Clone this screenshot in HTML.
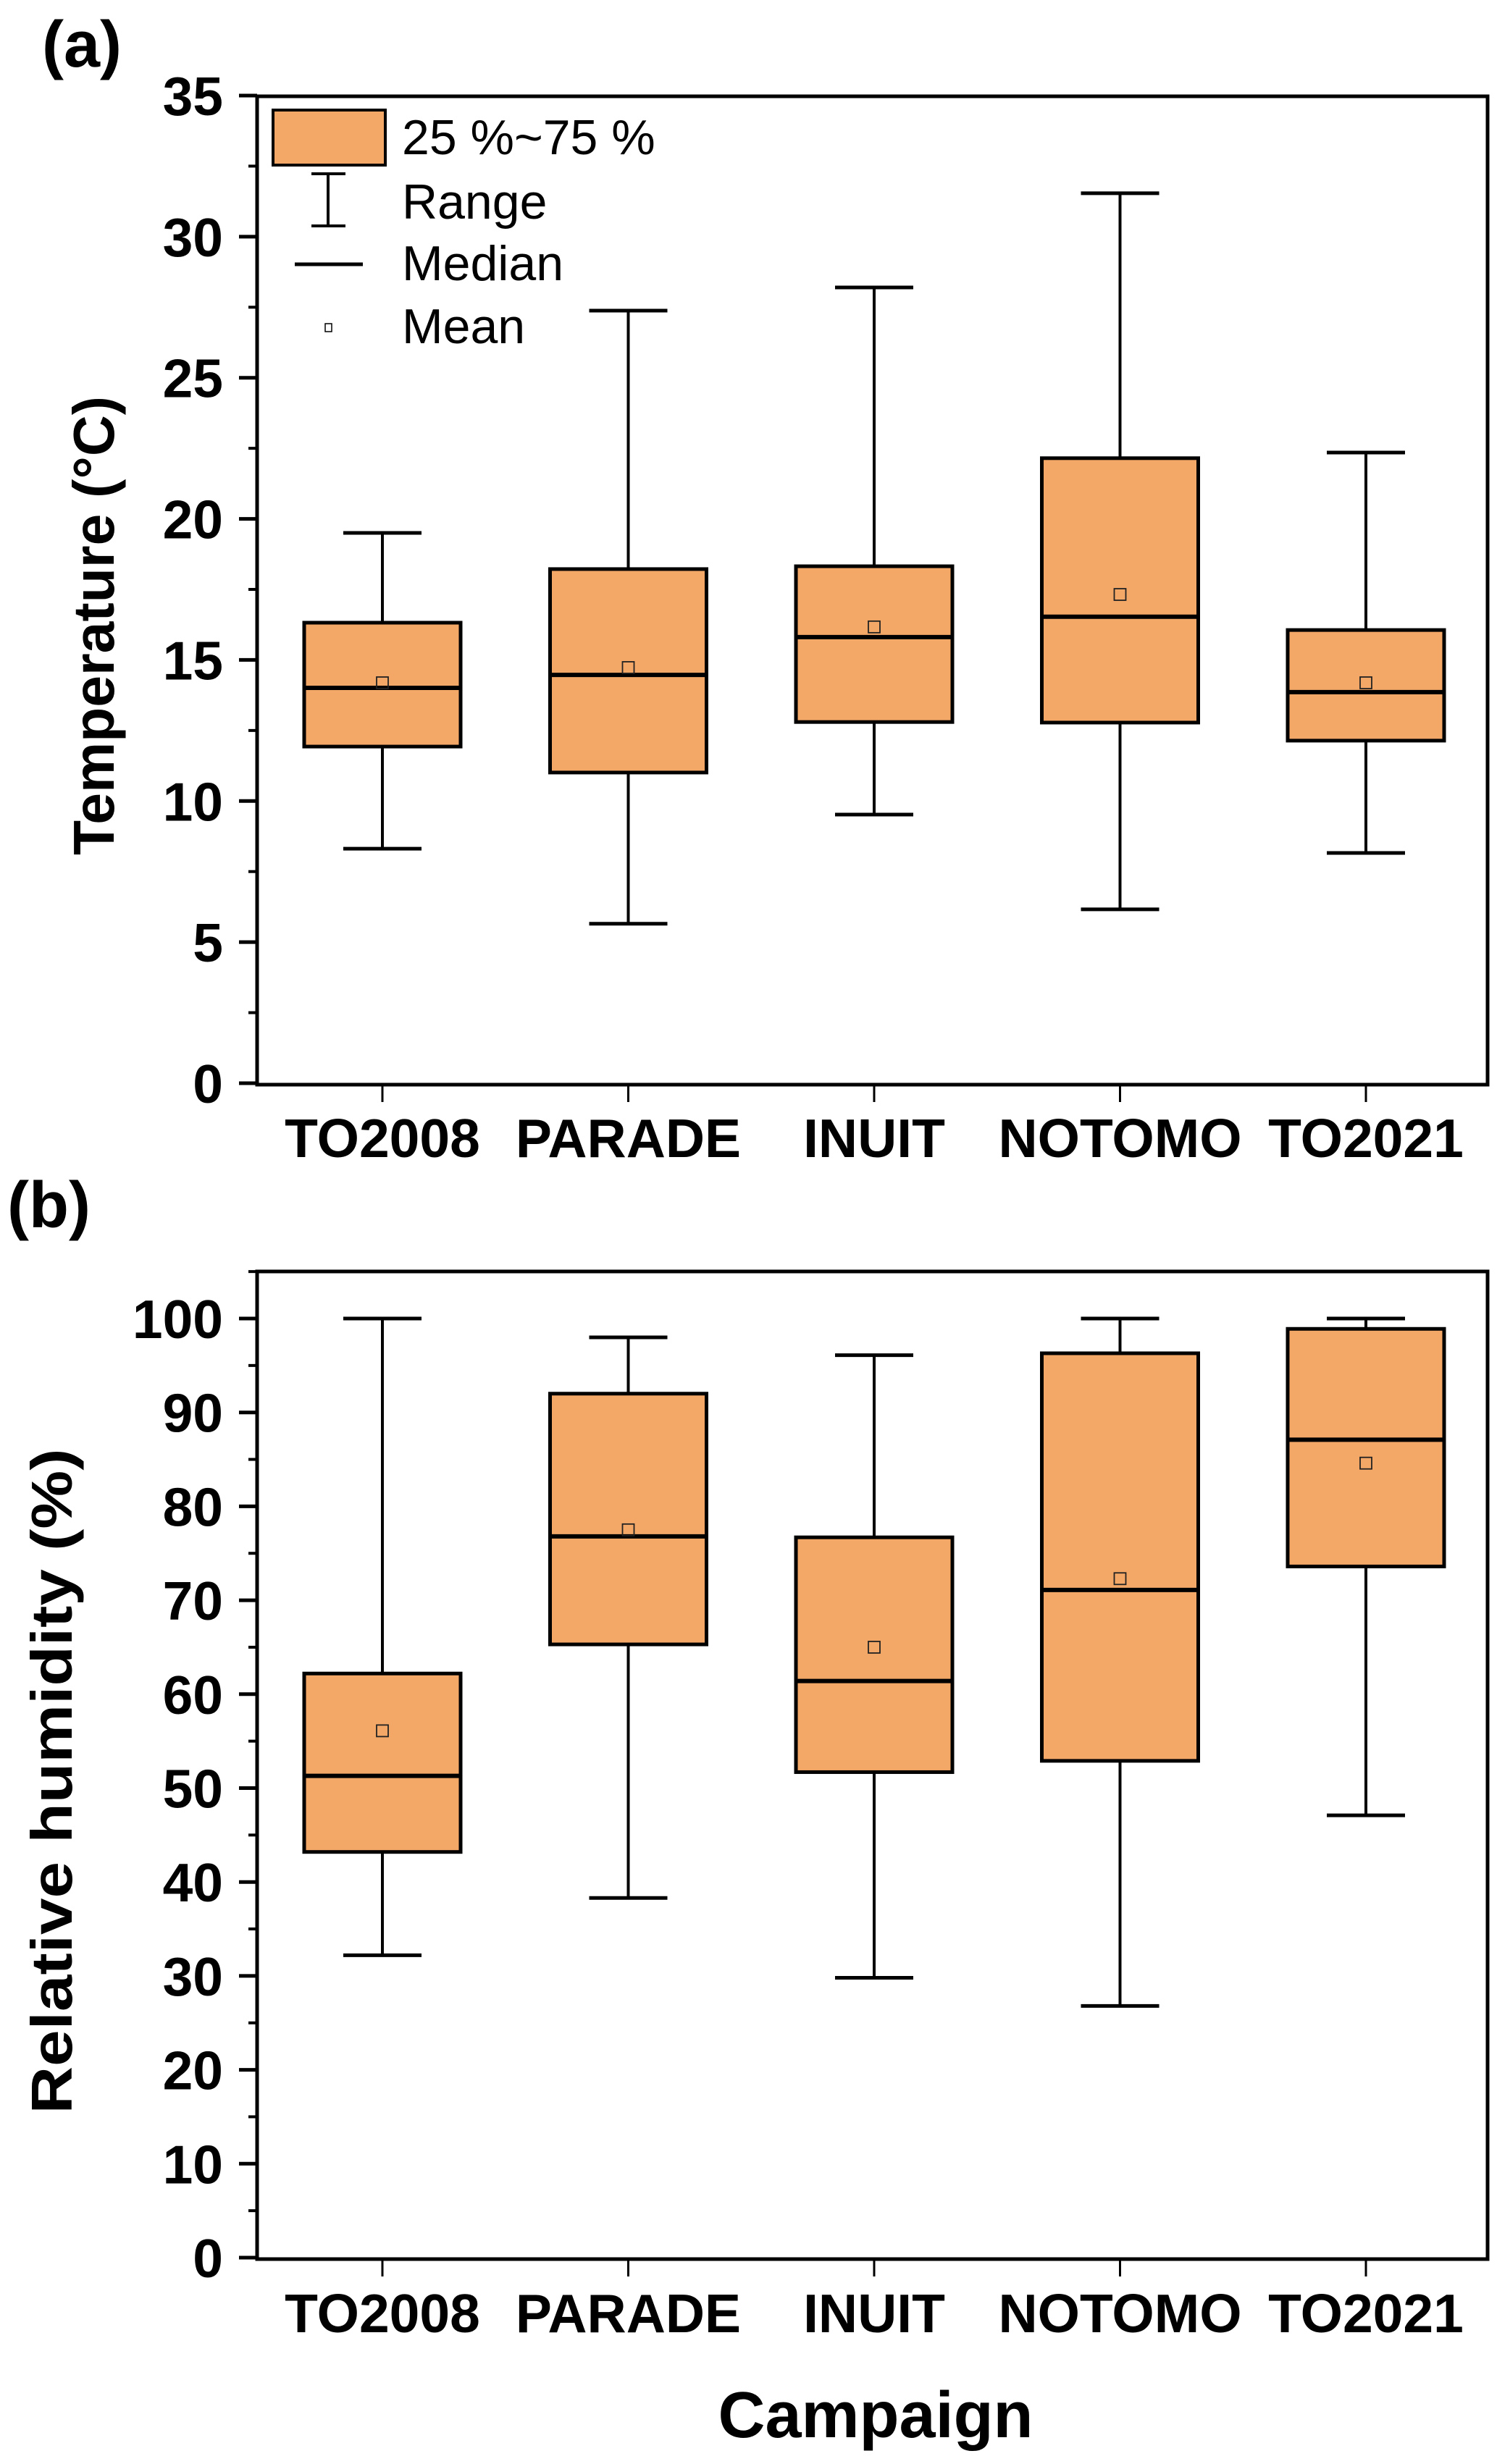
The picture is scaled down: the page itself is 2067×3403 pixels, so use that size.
<!DOCTYPE html>
<html><head><meta charset="utf-8"><style>
html,body{margin:0;padding:0;background:#fff}
svg{display:block}
text{font-family:"Liberation Sans",Arial,sans-serif}
</style></head><body>
<svg id="chart" width="2067" height="3403" viewBox="0 0 2067 3403" xmlns="http://www.w3.org/2000/svg"></svg>
<script>
const categories = ["TO2008","PARADE","INUIT","NOTOMO","TO2021"];
const tempMin = [8.31, 5.65, 9.52, 6.16, 8.16];
const tempQ1 = [11.93, 11.01, 12.8, 12.78, 12.14];
const tempMedian = [14.01, 14.47, 15.81, 16.53, 13.86];
const tempQ3 = [16.32, 18.22, 18.32, 22.15, 16.06];
const tempMax = [19.5, 27.38, 28.2, 31.54, 22.35];
const tempMean = [14.19, 14.73, 16.17, 17.32, 14.19];
const tempTicks = [0,5,10,15,20,25,30,35];
const rhMin = [32.2, 38.3, 29.8, 26.8, 47.1];
const rhQ1 = [43.2, 65.3, 51.7, 52.9, 73.6];
const rhMedian = [51.3, 76.8, 61.4, 71.1, 87.1];
const rhQ3 = [62.2, 92.0, 76.7, 96.3, 98.9];
const rhMax = [100, 98.0, 96.1, 100, 100];
const rhMean = [56.1, 77.5, 65.0, 72.3, 84.6];
const rhTicks = [0,10,20,30,40,50,60,70,80,90,100];

const NS="http://www.w3.org/2000/svg";
const svg=document.getElementById('chart');
function mk(tag,attrs,parent){const e=document.createElementNS(NS,tag);for(const k in attrs)e.setAttribute(k,attrs[k]);(parent||svg).appendChild(e);return e;}
const X0=355,X1=2054;
function xPos(i){return 528+i*339.5;}

function panel(p){
  const g=mk('g',{});
  
  
  const y=v=>p.y0-(v-p.vmin)/(p.vmax-p.vmin)*(p.y0-p.y1);
  for(let i=0;i<p.ticks.length-1;i++){
    const v=(p.ticks[i]+p.ticks[i+1])/2;
    const t=mk('line',{x1:343,x2:X0,y1:y(v),y2:y(v),stroke:'#000','stroke-width':4},g);
    
    
  }
  if(p.extraMinor){const v=p.ticks[p.ticks.length-1]+(p.ticks[1]-p.ticks[0])/2;
    const t=mk('line',{x1:343,x2:X0,y1:y(v),y2:y(v),stroke:'#000','stroke-width':4},g);
    
    }
  p.ticks.forEach(v=>{
    const t=mk('line',{x1:330,x2:X0,y1:y(v),y2:y(v),stroke:'#000','stroke-width':5},g);
    
    
    const l=mk('text',{x:308,y:y(v)+27,'text-anchor':'end','font-size':75,'font-weight':'bold'},g);
    l.textContent=v;
    
    
  });
  categories.forEach((c,i)=>{
    const cx=xPos(i);
    const t=mk('line',{x1:cx,x2:cx,y1:p.frameBottom,y2:p.frameBottom+24,stroke:'#000','stroke-width':3},g);
    
    
    const l=mk('text',{x:cx,y:p.labelY,'text-anchor':'middle','font-size':75,'font-weight':'bold'},g);
    l.textContent=c;
    
    
    const w=mk('line',{x1:cx,x2:cx,y1:y(p.max[i]),y2:y(p.min[i]),stroke:'#000','stroke-width':4},g);
    
    
    [p.max[i],p.min[i]].forEach(v=>{
      const cap=mk('line',{x1:cx-54,x2:cx+54,y1:y(v),y2:y(v),stroke:'#000','stroke-width':5},g);
      
      
    });
    const b=mk('rect',{x:cx-108,y:y(p.q3[i]),width:216,height:y(p.q1[i])-y(p.q3[i]),fill:'#F3A867',stroke:'#000','stroke-width':5},g);
    
    
    const m=mk('line',{x1:cx-108,x2:cx+108,y1:y(p.med[i]),y2:y(p.med[i]),stroke:'#000','stroke-width':6},g);
    
    
    const mn=mk('rect',{x:cx-8,y:y(p.mean[i])-8,width:16,height:16,fill:'none',stroke:'#222','stroke-width':1.8},g);
    
    
  });
  const f=mk('rect',{x:X0,y:p.frameTop,width:X1-X0,height:p.frameBottom-p.frameTop,fill:'none',stroke:'#000','stroke-width':5},g);
  
  
}
panel({name:'panel-a-temperature',vmin:0,vmax:35,y0:1496,y1:132,ticks:tempTicks,extraMinor:false,
  min:tempMin,q1:tempQ1,med:tempMedian,q3:tempQ3,max:tempMax,mean:tempMean,frameTop:133,frameBottom:1498,labelY:1598});
panel({name:'panel-b-humidity',vmin:0,vmax:100,y0:3118,y1:1821,ticks:rhTicks,extraMinor:true,
  min:rhMin,q1:rhQ1,med:rhMedian,q3:rhQ3,max:rhMax,mean:rhMean,frameTop:1756,frameBottom:3120,labelY:3221});
</script>
<script>
(function(){
const NS="http://www.w3.org/2000/svg";const svg=document.getElementById('chart');
function t(txt,attrs,name){const e=document.createElementNS(NS,'text');for(const k in attrs)e.setAttribute(k,attrs[k]);e.textContent=txt;


svg.appendChild(e);return e;}
t('(a)',{x:58,y:92,'font-size':90,'font-weight':'bold'},'panel-a-label');
t('(b)',{x:10,y:1695,'font-size':90,'font-weight':'bold'},'panel-b-label');
t('Temperature (°C)',{x:0,y:0,'font-size':80,'font-weight':'bold','text-anchor':'middle',transform:'translate(157,864) rotate(-90)',textLength:634,lengthAdjust:'spacingAndGlyphs'},'y-axis-title-temperature');
t('Relative humidity (%)',{x:0,y:0,'font-size':80,'font-weight':'bold','text-anchor':'middle',transform:'translate(99,2460) rotate(-90)',textLength:919,lengthAdjust:'spacingAndGlyphs'},'y-axis-title-humidity');
t('Campaign',{x:1209,y:3366,'font-size':90,'font-weight':'bold','text-anchor':'middle'},'x-axis-title');
const lg=document.createElementNS(NS,'g');


svg.appendChild(lg);
function a(tag,attrs,name){const e=document.createElementNS(NS,tag);for(const k in attrs)e.setAttribute(k,attrs[k]);


lg.appendChild(e);return e;}
a('rect',{x:377,y:152,width:155,height:76,fill:'#F3A867',stroke:'#000','stroke-width':4},'legend-box-swatch');
a('line',{x1:453,x2:453,y1:240,y2:312,stroke:'#000','stroke-width':4},'legend-range-swatch');
a('line',{x1:430,x2:477,y1:240,y2:240,stroke:'#000','stroke-width':4},'legend-range-cap-top');
a('line',{x1:430,x2:477,y1:312,y2:312,stroke:'#000','stroke-width':4},'legend-range-cap-bottom');
a('line',{x1:407,x2:501,y1:365,y2:365,stroke:'#000','stroke-width':5},'legend-median-swatch');
a('rect',{x:449,y:447,width:9,height:11,fill:'none',stroke:'#000','stroke-width':1.5},'legend-mean-swatch');
const ls=[['25 %~75 %',213],['Range',302],['Median',387],['Mean',474]];
ls.forEach(([s,yy])=>{const e=document.createElementNS(NS,'text');e.setAttribute('x',555);e.setAttribute('y',yy);e.setAttribute('font-size',68);e.textContent=s;


lg.appendChild(e);});
})();
</script>
</body></html>
